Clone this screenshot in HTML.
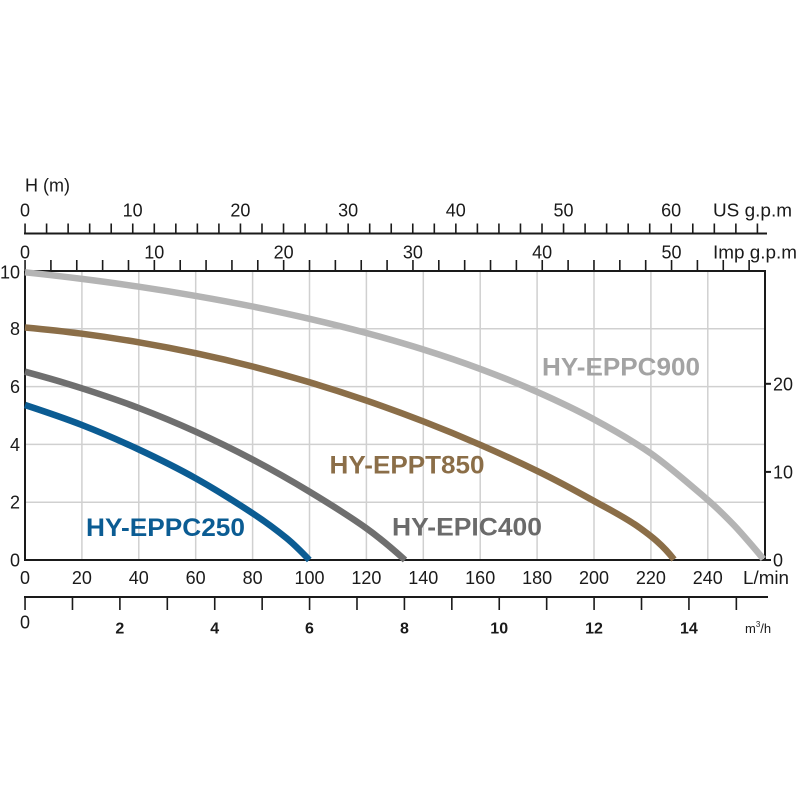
<!DOCTYPE html>
<html><head><meta charset="utf-8"><style>
html,body{margin:0;padding:0;background:#fff;width:800px;height:800px;overflow:hidden}
svg{display:block}
text{font-family:"Liberation Sans",Arial,sans-serif;fill:#1a1a1a}
</style></head><body>
<svg width="800" height="800" viewBox="0 0 800 800" xmlns="http://www.w3.org/2000/svg">
<rect width="800" height="800" fill="#fff"/>
<!-- gridlines -->
<g stroke="#d0d0d0" stroke-width="1.5">
<line x1="81.9" y1="271" x2="81.9" y2="560"/><line x1="138.8" y1="271" x2="138.8" y2="560"/>
<line x1="195.7" y1="271" x2="195.7" y2="560"/><line x1="252.6" y1="271" x2="252.6" y2="560"/>
<line x1="309.5" y1="271" x2="309.5" y2="560"/><line x1="366.4" y1="271" x2="366.4" y2="560"/>
<line x1="423.3" y1="271" x2="423.3" y2="560"/><line x1="480.2" y1="271" x2="480.2" y2="560"/>
<line x1="537.1" y1="271" x2="537.1" y2="560"/><line x1="594" y1="271" x2="594" y2="560"/>
<line x1="650.9" y1="271" x2="650.9" y2="560"/><line x1="707.8" y1="271" x2="707.8" y2="560"/>
<line x1="25" y1="328.8" x2="765" y2="328.8"/><line x1="25" y1="386.6" x2="765" y2="386.6"/>
<line x1="25" y1="444.4" x2="765" y2="444.4"/><line x1="25" y1="502.2" x2="765" y2="502.2"/>
</g>
<!-- frame -->
<g stroke="#1a1a1a" stroke-width="2" fill="none">
<polyline points="25,271 25,560 765,560 765,271 25,271"/>
<line x1="765" y1="560" x2="771" y2="560"/><line x1="765" y1="471.9" x2="771" y2="471.9"/><line x1="765" y1="383.8" x2="771" y2="383.8"/>
<line x1="24" y1="233.5" x2="767" y2="233.5"/>
<line x1="24" y1="597" x2="768" y2="597"/>
</g>
<!-- ticks via dasharray -->
<line x1="24.25" y1="228.5" x2="759" y2="228.5" stroke="#1a1a1a" stroke-width="10" stroke-dasharray="1.6 19.94"/>
<line x1="24.25" y1="265.5" x2="751" y2="265.5" stroke="#1a1a1a" stroke-width="11" stroke-dasharray="1.6 24.26"/>
<line x1="24.25" y1="603.5" x2="738" y2="603.5" stroke="#1a1a1a" stroke-width="13" stroke-dasharray="1.6 45.82"/>

<!-- curves -->
<g fill="none" stroke-width="6.5" stroke-linejoin="round" stroke-linecap="butt">
<path stroke="#b4b4b4" d="M25,272.3 C43.97,274.29 62.93,276.5 81.9,278.9 C100.87,281.3 119.83,283.87 138.8,286.7 C157.77,289.53 176.73,292.6 195.7,295.9 C214.67,299.2 233.63,302.68 252.6,306.5 C271.57,310.32 290.53,314.38 309.5,318.8 C328.47,323.22 347.43,327.88 366.4,333 C385.37,338.12 404.33,343.52 423.3,349.5 C442.27,355.48 461.23,361.83 480.2,368.9 C499.17,375.97 518.13,383.48 537.1,391.9 C556.07,400.32 575.03,409.15 594,419.4 C612.97,429.65 631.93,440.45 650.9,453.4 C669.87,466.83 688.83,483.63 707.8,500 C716.3,507.34 724.8,515.72 733.3,524.5 C739.97,531.39 746.63,539.33 753.3,547 C756.63,550.83 759.97,554.83 763.3,559"/>
<path stroke="#8b6e48" d="M25,327.5 C43.97,329.3 62.93,331.23 81.9,333.7 C100.87,336.17 119.83,339.05 138.8,342.3 C157.77,345.55 176.73,349.17 195.7,353.2 C214.67,357.23 233.63,361.65 252.6,366.5 C271.57,371.35 290.53,376.62 309.5,382.3 C328.47,387.98 347.43,394.08 366.4,400.6 C385.37,407.12 404.33,414.03 423.3,421.4 C442.27,428.77 461.23,436.55 480.2,444.8 C499.17,453.05 518.13,461.72 537.1,470.9 C556.07,480.08 575.03,490.38 594,501 C609.33,509.59 624.67,516.96 640,528 C651.33,536.16 662.67,544.77 674,559.5"/>
<path stroke="#6f6f6f" d="M25,371.7 C43.97,376.82 62.93,382.25 81.9,388.3 C100.87,394.35 119.83,400.77 138.8,408 C157.77,415.23 176.73,423.11 195.7,431.7 C214.67,440.29 233.63,449.5 252.6,459.5 C271.57,469.5 290.53,480.22 309.5,491.7 C328.47,503.18 347.43,514.74 366.4,528.3 C379.27,537.5 392.13,548.42 405,560"/>
<path stroke="#0b5c93" d="M25,405 C43.97,411.26 62.93,417.58 81.9,425 C100.87,432.42 119.83,440.62 138.8,449.5 C157.77,458.38 176.73,467.66 195.7,478.3 C214.67,488.94 233.63,500.8 252.6,513.3 C263.97,520.79 275.33,528.93 286.7,538.3 C294.23,544.5 301.77,552.1 309.3,560"/>
</g>

<!-- curve labels -->
<g font-weight="bold" font-size="25">
<text x="542" y="375.7" textLength="158" lengthAdjust="spacingAndGlyphs" style="fill:#a3a3a3">HY-EPPC900</text>
<text x="329.5" y="473.3" textLength="155" lengthAdjust="spacingAndGlyphs" style="fill:#8b6e48">HY-EPPT850</text>
<text x="392" y="535.7" textLength="150" lengthAdjust="spacingAndGlyphs" style="fill:#6b6b6b">HY-EPIC400</text>
<text x="86" y="536" textLength="159" lengthAdjust="spacingAndGlyphs" style="fill:#0b5c93">HY-EPPC250</text>
</g>

<!-- axis text -->
<g font-size="18">
<text x="25" y="191.5">H (m)</text>
<g text-anchor="middle">
<text x="25" y="216.5">0</text><text x="132.7" y="216.5">10</text><text x="240.4" y="216.5">20</text>
<text x="348.1" y="216.5">30</text><text x="455.8" y="216.5">40</text><text x="563.5" y="216.5">50</text>
<text x="671.2" y="216.5">60</text>
<text x="25" y="258.3">0</text><text x="154.3" y="258.3">10</text><text x="283.6" y="258.3">20</text>
<text x="412.9" y="258.3">30</text><text x="542.2" y="258.3">40</text><text x="671.5" y="258.3">50</text>
</g>
<text x="713" y="216.5" textLength="79" lengthAdjust="spacingAndGlyphs">US g.p.m</text>
<text x="713" y="258.3" textLength="84" lengthAdjust="spacingAndGlyphs">Imp g.p.m</text>
<g text-anchor="end">
<text x="20" y="278.5">10</text><text x="20" y="335">8</text><text x="20" y="393">6</text>
<text x="20" y="451">4</text><text x="20" y="508.5">2</text><text x="20" y="566.5">0</text>
</g>
<text x="773" y="390.3">20</text><text x="773" y="478.4">10</text><text x="773" y="566.5">0</text>
<g text-anchor="middle">
<text x="25" y="584">0</text><text x="81.9" y="584">20</text><text x="138.8" y="584">40</text>
<text x="195.7" y="584">60</text><text x="252.6" y="584">80</text><text x="309.5" y="584">100</text>
<text x="366.4" y="584">120</text><text x="423.3" y="584">140</text><text x="480.2" y="584">160</text>
<text x="537.1" y="584">180</text><text x="594" y="584">200</text><text x="650.9" y="584">220</text>
<text x="707.8" y="584">240</text>
</g>
<text x="743" y="584" textLength="46" lengthAdjust="spacingAndGlyphs">L/min</text>
<text x="25" y="628.5" text-anchor="middle">0</text>
</g>
<g font-size="16" font-weight="bold" text-anchor="middle">
<text x="119.8" y="633.5">2</text><text x="214.7" y="633.5">4</text><text x="309.5" y="633.5">6</text>
<text x="404.4" y="633.5">8</text><text x="499.2" y="633.5">10</text><text x="594" y="633.5">12</text>
<text x="688.9" y="633.5">14</text>
</g>
<text x="745" y="633" font-size="13">m<tspan font-size="8" dy="-6">3</tspan><tspan dy="6">/h</tspan></text>
</svg>
</body></html>
